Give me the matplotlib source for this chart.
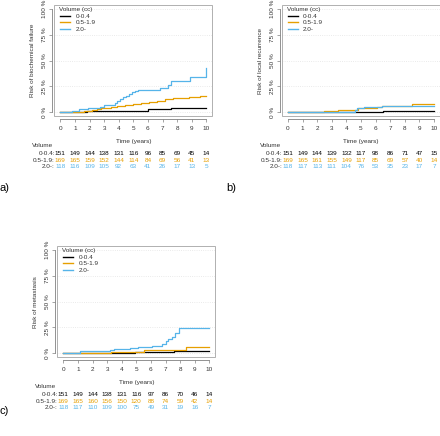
import numpy as np
import matplotlib
matplotlib.use("Agg")
import matplotlib.pyplot as plt
from matplotlib.lines import Line2D
from matplotlib.patches import Rectangle

plt.rcParams['font.family'] = ['Liberation Sans', 'DejaVu Sans']

# groups and colours
groups = ["0-0.4", "0.5-1.9", "2.0-"]
colors = ["#000000", "#E69F00", "#56B4E9"]
years = list(range(0, 11))

# a) biochemical failure (step curves, % risk)
a_t_black = [0, 1.8, 6.0, 7.6, 10]
a_y_black = [0, 1.2, 2.9, 4.5, 4.5]
a_t_orange = [0, 1.35, 1.6, 1.9, 2.2, 2.5, 2.8, 3.1, 3.5, 3.9, 4.4, 5.0, 5.5, 6.1, 6.6, 7.2, 7.7, 8.8, 9.6, 10]
a_y_orange = [0, 0.5, 1.0, 1.6, 2.4, 3.0, 3.7, 4.5, 5.4, 6.4, 7.1, 8.0, 9.0, 10.2, 11.0, 12.5, 13.5, 15.0, 15.8, 15.8]
a_t_blue = [0, 0.8, 1.3, 1.9, 2.7, 3.0, 3.75, 3.9, 4.1, 4.3, 4.5, 4.7, 4.9, 5.1, 5.3, 6.8, 7.4, 7.6, 8.9, 9.95, 10]
a_y_blue = [0, 1.3, 3.0, 3.8, 5.5, 7.0, 9.0, 11.0, 13.0, 14.5, 16.0, 17.5, 19.5, 21.0, 21.5, 24.0, 26.4, 30.3, 34.5, 42.5, 42.5]
a_risk_black = [151, 149, 144, 138, 131, 116, 96, 85, 69, 45, 14]
a_risk_orange = [169, 165, 159, 152, 144, 114, 84, 69, 56, 41, 13]
a_risk_blue = [118, 116, 109, 105, 92, 63, 41, 26, 17, 13, 5]

# b) local recurrence
b_t_black = [0, 6.5, 10]
b_y_black = [0, 1.3, 1.3]
b_t_orange = [0, 2.45, 3.45, 4.8, 6.1, 6.45, 8.5, 10]
b_y_orange = [0, 1.2, 2.2, 3.9, 5.0, 6.1, 7.7, 7.7]
b_t_blue = [0, 4.57, 4.75, 5.2, 6.45, 10]
b_y_blue = [0, 2.6, 4.2, 5.2, 5.8, 5.8]
b_risk_black = [151, 149, 144, 139, 132, 117, 98, 86, 71, 47, 15]
b_risk_orange = [169, 165, 161, 155, 149, 117, 85, 69, 57, 40, 14]
b_risk_blue = [118, 117, 113, 111, 104, 76, 53, 35, 23, 17, 7]

# c) metastasis
c_t_black = [0, 1.72, 4.9, 7.6, 10]
c_y_black = [0, 0.5, 1.0, 2.0, 2.0]
c_t_orange = [0, 3.3, 5.5, 8.4, 10]
c_y_orange = [0, 1.0, 3.2, 6.5, 6.5]
c_t_blue = [0, 1.15, 3.2, 3.5, 4.0, 4.6, 5.15, 5.6, 6.06, 6.75, 7.0, 7.2, 7.45, 7.67, 7.94, 10]
c_y_blue = [0, 2.6, 3.5, 3.9, 4.2, 5.1, 5.8, 6.5, 7.4, 8.7, 11.9, 13.8, 16.0, 20.0, 24.5, 24.5]
c_risk_black = [151, 149, 144, 138, 131, 116, 97, 86, 70, 46, 14]
c_risk_orange = [169, 165, 160, 156, 150, 120, 88, 74, 59, 42, 14]
c_risk_blue = [118, 117, 110, 109, 100, 75, 49, 31, 19, 16, 7]

W, H = 440, 436
XS, YS = 14.6, 1.033  # pixels per year, pixels per %
FS = 4.6

fig = plt.figure(figsize=(W / 100, H / 100), dpi=100)


def panel(x0, y0, ylabel, curves, risks, letter, letter_xy):
    left, right = x0 - 0.4 * XS, x0 + 10.4 * XS
    top, bottom = y0 - 104 * YS, y0 + 4 * YS
    h = bottom - top
    ax = fig.add_axes([left / W, 1 - bottom / H, (right - left) / W, h / H])
    ax.set_xlim(-0.4, 10.4)
    ax.set_ylim(-4, 104)
    for (t, y), col in zip(curves, colors):
        ax.step(t, y, where='post', color=col, lw=0.9)
    ax.add_patch(Rectangle((0, 0), 1, 1, transform=ax.transAxes, fill=False,
                           ec='#b0b0b0', lw=0.7, clip_on=False, zorder=5))
    for s in ['top', 'right']:
        ax.spines[s].set_visible(False)
    ax.spines['left'].set_position(('outward', 1.5))
    ax.spines['bottom'].set_position(('outward', 1.5))
    ax.spines['left'].set_bounds(0, 100)
    ax.spines['bottom'].set_bounds(0, 10)
    for s in ['left', 'bottom']:
        ax.spines[s].set_color('#808080')
        ax.spines[s].set_linewidth(0.6)
    ax.set_xticks(years)
    ax.set_yticks([0, 25, 50, 75, 100])
    ax.set_yticklabels(["0 %", "25 %", "50 %", "75 %", "100 %"], rotation=90, va='center')
    ax.tick_params(labelsize=FS, length=2.2, width=0.5, color='#808080', labelcolor='#333333')
    ax.tick_params(axis='x', pad=3.5)
    ax.tick_params(axis='y', pad=1.5)
    ax.grid(axis='y', color='#e3e3e3', linestyle=':', lw=0.6)
    ax.set_ylabel(ylabel, fontsize=FS, labelpad=5, color='#333333')

    # legend: title as separate text, entries below it
    ax.text(4.5 / (right - left), 1 - 2.0 / h, "Volume (cc)", transform=ax.transAxes,
            ha='left', va='top', fontsize=FS, color='#333333')
    handles = [Line2D([], [], color=c, lw=1.0) for c in colors]
    leg = ax.legend(handles, groups, loc='upper left', bbox_to_anchor=(5.5 / (right - left), 1 - 8.5 / h),
                    frameon=False, fontsize=FS, handlelength=1.6, handletextpad=0.8,
                    labelspacing=0.18, borderaxespad=0, borderpad=0)
    for txt in leg.get_texts():
        txt.set_color('#333333')

    # risk table under the axis
    def note(s, x, off_px, color='#333333', ha='center'):
        ax.annotate(s, xy=(x, 0), xycoords='data', xytext=(0, -off_px * 0.72),
                    textcoords='offset points', ha=ha, va='center', fontsize=FS,
                    color=color, annotation_clip=False)
    note("Time (years)", 5, 29.6)
    note("Volume", -1.2, 33.5)
    for i, (row, col) in enumerate(zip(risks, colors)):
        off = 41 + 6.7 * i
        ax.annotate(groups[i] + ":", xy=(0, 0), xycoords='data', xytext=(-5.5 * 0.72, -off * 0.72),
                    textcoords='offset points', ha='right', va='center', fontsize=FS,
                    color='#333333', annotation_clip=False)
        for yr, n in zip(years, row):
            note(str(n), yr, off, color=col)
    fig.text(letter_xy[0] / W, 1 - letter_xy[1] / H, letter, fontsize=8, ha='left', va='center')
    return ax


panel(60.3, 112.3, "Risk of biochemical failure",
      [(a_t_black, a_y_black), (a_t_orange, a_y_orange), (a_t_blue, a_y_blue)],
      [a_risk_black, a_risk_orange, a_risk_blue], "a)", (0, 188))
panel(288.0, 112.3, "Risk of local recurrence",
      [(b_t_black, b_y_black), (b_t_orange, b_y_orange), (b_t_blue, b_y_blue)],
      [b_risk_black, b_risk_orange, b_risk_blue], "b)", (226, 188))
panel(63.3, 353.3, "Risk of metastasis",
      [(c_t_black, c_y_black), (c_t_orange, c_y_orange), (c_t_blue, c_y_blue)],
      [c_risk_black, c_risk_orange, c_risk_blue], "c)", (0, 411))

fig.savefig("out.png", dpi=100)
